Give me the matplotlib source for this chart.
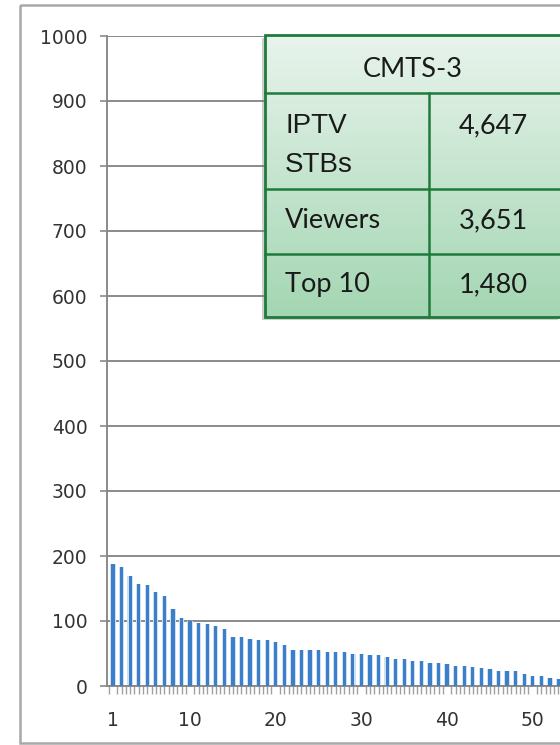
import matplotlib.pyplot as plt
import matplotlib.patches as mpatches
import numpy as np

# viewers per channel, ranked
values = [188, 183, 170, 157, 156, 145, 139, 118, 104, 100,
          97, 95, 92, 88, 76, 75, 73, 71, 71, 68,
          63, 56, 56, 56, 55, 53, 53, 52, 50, 49,
          48, 47, 45, 42, 41, 38, 38, 36, 36, 34,
          31, 31, 30, 28, 26, 23, 23, 23, 19, 16,
          16, 12, 11]
ranks = np.arange(1, len(values) + 1)
x_labels = [1, 10, 20, 30, 40, 50]
y_ticks = list(range(0, 1001, 100))

table_title = 'CMTS-3'
table_rows = ['IPTV\nSTBs', 'Viewers', 'Top 10']
table_vals = ['4,647', '3,651', '1,480']

W, H = 560, 745
fig = plt.figure(figsize=(W / 100, H / 100), dpi=100)

# chart area (extends past the right edge, as in the cropped screenshot)
ax = fig.add_axes([107 / W, 59 / H, 520 / W, 650 / H])
ax.set_xlim(0.3, 61)
ax.set_ylim(0, 1000)
ax.set_yticks(y_ticks)
ax.set_xticks(x_labels)
ax.set_xticks(np.arange(0.5, 61, 0.5), minor=True)
ax.grid(axis='y', color='#8a8a8a', lw=1.4)
ax.set_axisbelow(True)
for s in ['top', 'right']:
    ax.spines[s].set_visible(False)
ax.spines['left'].set_color('#8a8a8a')
ax.spines['bottom'].set_color('#8a8a8a')
ax.spines['left'].set_linewidth(1.4)
ax.spines['bottom'].set_linewidth(1.4)
ax.tick_params(axis='y', colors='#8a8a8a', length=5, width=1.2, pad=9,
               labelcolor='#333333', labelsize=13.5)
ax.tick_params(axis='x', which='major', length=0, pad=18,
               labelcolor='#333333', labelsize=13.5)
ax.tick_params(axis='x', which='minor', colors='#a0a0a0', length=6, width=1)

# bars: soft halo + darker core to mimic the gradient
ax.bar(ranks, values, width=0.62, color='#cfe0f2', zorder=2)
ax.bar(ranks, values, width=0.38, color='#3b7fca', zorder=3)

# overlay in pixel coordinates for frame and table
ov = fig.add_axes([0, 0, 1, 1], zorder=5)
ov.set_xlim(0, W)
ov.set_ylim(H, 0)
ov.axis('off')
ov.patch.set_alpha(0)

ov.add_patch(mpatches.Rectangle((20, 5), 600, 738, fill=False,
                                ec='#a8a8a8', lw=1.8))

tx0, tx1, ty0, ty1 = 265, 561, 35, 317
ov.add_patch(mpatches.Rectangle((tx0 - 3, ty0 + 3), tx1 - tx0, ty1 - ty0,
                                color='#777777', alpha=0.35, lw=0))
grad = np.linspace(0, 1, 200).reshape(-1, 1)
c_top = np.array([0.91, 0.955, 0.925])
c_bot = np.array([0.64, 0.84, 0.70])
img = c_top + grad[:, :, None] * (c_bot - c_top)
ov.imshow(img, extent=[tx0, tx1, ty1, ty0], aspect='auto', zorder=2)

green = '#1e7b3a'
row_edges = [ty0, 93, 189, 254, ty1]
col_mid = 429
ov.add_patch(mpatches.Rectangle((tx0, ty0), tx1 - tx0, ty1 - ty0, fill=False,
                                ec=green, lw=2, zorder=3))
for yy in row_edges[1:-1]:
    ov.plot([tx0, tx1], [yy, yy], color=green, lw=1.8, zorder=3)
ov.plot([col_mid, col_mid], [93, ty1], color=green, lw=1.8, zorder=3)

lato = 'Lato'
ov.text(413, 77, table_title, ha='center', va='baseline', fontsize=19.5,
        family=lato, color='#1a1a1a', zorder=4)
first = table_rows[0].split('\n')
ov.text(285, 133, first[0], ha='left', va='baseline', fontsize=20,
        family='Liberation Sans', color='#1a1a1a', zorder=4)
ov.text(285, 172, first[1], ha='left', va='baseline', fontsize=20,
        family='Liberation Sans', color='#1a1a1a', zorder=4)
ov.text(285, 228, table_rows[1], ha='left', va='baseline', fontsize=19.5,
        family=lato, color='#1a1a1a', zorder=4)
ov.text(285, 292, table_rows[2], ha='left', va='baseline', fontsize=19.5,
        family=lato, color='#1a1a1a', zorder=4)
for v, yb in zip(table_vals, [133, 228, 292]):
    ov.text(493, yb, v, ha='center', va='baseline', fontsize=19.5,
            family=lato, color='#1a1a1a', zorder=4)

fig.savefig('out.png', dpi=100)
